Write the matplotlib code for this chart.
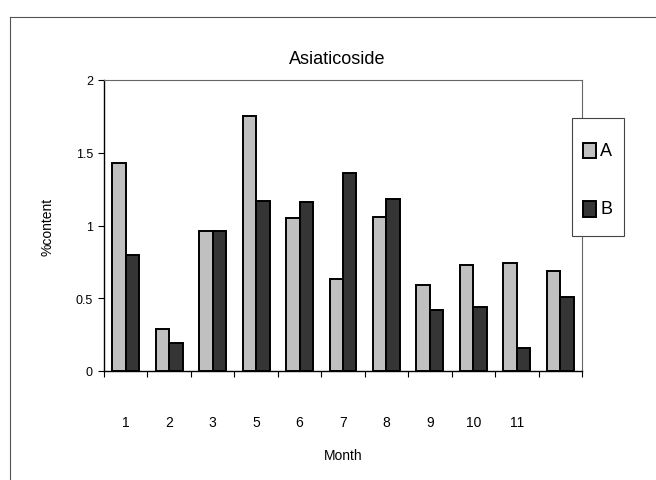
import matplotlib
matplotlib.use("Agg")
import matplotlib.pyplot as plt
from matplotlib.patches import Rectangle
import numpy as np

plt.rcParams['font.family'] = ['Liberation Sans', 'DejaVu Sans']

months = ["1", "2", "3", "5", "6", "7", "8", "9", "10", "11", ""]
series_a = [1.43, 0.29, 0.96, 1.75, 1.05, 0.63, 1.06, 0.59, 0.73, 0.74, 0.69]
series_b = [0.80, 0.19, 0.96, 1.17, 1.16, 1.36, 1.18, 0.42, 0.44, 0.16, 0.51]
series_names = ["A", "B"]
yticks = [0, 0.5, 1, 1.5, 2]
ytick_labels = ["0", "0.5", "1", "1.5", "2"]

color_a = "#c0c0c0"
color_b = "#353535"

W, H = 656, 481
fig = plt.figure(figsize=(W / 100, H / 100), dpi=100)
fig.patch.set_facecolor("white")

# outer chart frame (top and left edges visible)
fig.add_artist(plt.Line2D([10 / W, 10 / W], [0, 1 - 18 / H], color="#555555", lw=0.8))
fig.add_artist(plt.Line2D([10 / W, 1], [1 - 18 / H, 1 - 18 / H], color="#555555", lw=0.8))

ax = fig.add_axes([104 / W, 1 - 372 / H, (582 - 104) / W, (372 - 81) / H])

x = np.arange(len(months))
w = 0.31
ax.bar(x - w / 2, series_a, width=w, color=color_a, edgecolor="black", linewidth=1.4, label=series_names[0])
ax.bar(x + w / 2, series_b, width=w, color=color_b, edgecolor="black", linewidth=1.4, label=series_names[1])

ax.set_xlim(-0.5, len(months) - 0.5)
ax.set_ylim(0, 2)
ax.set_yticks(yticks)
ax.set_yticklabels(ytick_labels, fontsize=9)
ax.set_xticks(x)
ax.set_xticklabels(months, fontsize=10)
ax.tick_params(axis="x", which="major", length=0, pad=32)
ax.set_xticks(np.arange(-0.5, len(months), 1), minor=True)
ax.tick_params(axis="x", which="minor", length=4, direction="out", width=0.8)
ax.tick_params(axis="y", length=4, direction="out", width=0.8, pad=4)

for s in ["top", "right"]:
    ax.spines[s].set_color("#666666")
    ax.spines[s].set_linewidth(0.8)
ax.spines["left"].set_linewidth(1.0)
ax.spines["bottom"].set_linewidth(1.0)

ax.set_xlabel("Month", fontsize=10, labelpad=13)
ax.set_ylabel("%content", fontsize=10, labelpad=15)
fig.text(337 / W, 1 - 60 / H, "Asiaticoside", ha="center", va="center", fontsize=13)

# legend box drawn in figure pixel coordinates
def fx(px):
    return px / W

def fy(py):
    return 1 - py / H

fig.add_artist(Rectangle((fx(572), fy(237)), (624 - 572) / W, (237 - 119) / H,
                         transform=fig.transFigure, facecolor="white",
                         edgecolor="#444444", linewidth=0.8, zorder=5))
for name, col, cy in zip(series_names, [color_a, color_b], [151.5, 210]):
    fig.add_artist(Rectangle((fx(583), fy(cy + 7.5)), 13 / W, 15 / H,
                             transform=fig.transFigure, facecolor=col,
                             edgecolor="black", linewidth=1.4, zorder=6))
    fig.text(fx(600), fy(cy), name, ha="left", va="center", fontsize=13, zorder=7)

fig.savefig("out.png", dpi=100, facecolor="white")
